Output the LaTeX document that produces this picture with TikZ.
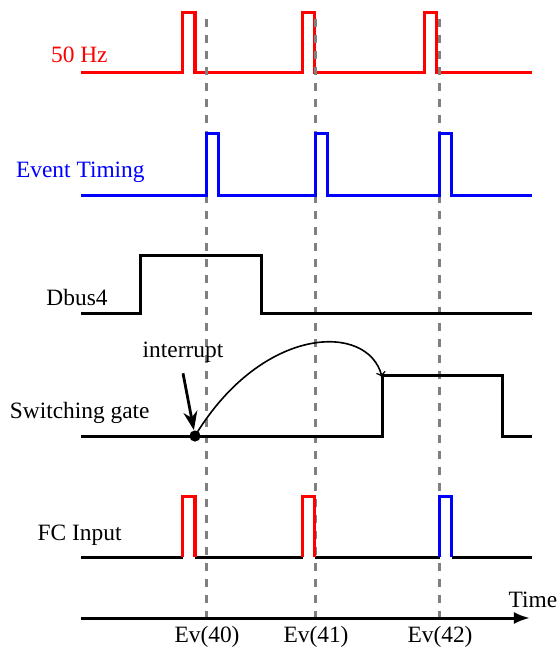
\documentclass[tikz,border=0pt]{standalone}
\usepackage{fontspec}
\setmainfont{Liberation Serif}
\usetikzlibrary{arrows.meta}
\tikzset{>=Stealth,every node/.style={font=\fontsize{11.7}{14}\selectfont},
 wave/.style={line width=1.5pt},
 marker/.style={gray,line width=1.5pt,dash pattern=on 4pt off 4pt},
 siglabel/.style={anchor=east,inner sep=0pt}}
\begin{document}
\begin{tikzpicture}[x=0.5pt,y=-0.5pt]
\useasboundingbox (0,0) rectangle (560,650);
% signal names
\node[siglabel,red] (hz) at (108,55){50 Hz};
\node[siglabel,blue] (et) at (145,172){Event Timing};
\node[siglabel] (db) at (108,297){Dbus4};
\node[siglabel] (sg) at (150,413){Switching gate};
\node[siglabel] (fc) at (122,535){FC Input};
% waveforms
\draw[wave,red] (81,72) foreach \t in {183,303,425}{-|(\t,12)-|(\t+12,72)}--(532,72);
% event markers
\foreach \x in {207,316,440}
 {\draw[marker] (\x,19)--(\x,618);}
\draw[wave,blue] (81,195) foreach \t in {207,316,440}{-|(\t,133)-|(\t+12,195)}--(532,195);
\draw[wave] (81,313)-|(141,255)-|(262,313)--(532,313);
\draw[wave] (81,436)-|(383,375)-|(503,436)--(532,436);
\foreach \a/\b in {81/183,195/303,315/440,452/532}
 {\draw[wave] (\a,557)--(\b,557);}
\foreach \t/\c in {183/red,303/red,440/blue}
 {\draw[wave,\c] (\t,557)|-(\t+12,496)--(\t+12,557);}
% interrupt
\coordinate (irq) at (195,436);
\coordinate (rise) at (382,377);
\fill (irq) circle (2.8pt);
\node (intr) at (183,352){interrupt};
\draw[->,line width=1.4pt,shorten >=3pt] ([shift={(0,4)}]intr.south)--(irq);
\draw[-to,line width=0.8pt] (irq) .. controls (262,325) and (368,322) .. (rise);
% time axis
\draw[-{Latex[length=8pt,width=6pt]},line width=1.5pt] (81,618)--(530,618);
\node (time) at (533,600){Time};
\foreach \x/\n in {207/40,316/41,440/42}
 {\node (ev\n) at (\x,637){Ev(\n)};}
\end{tikzpicture}
\end{document}
